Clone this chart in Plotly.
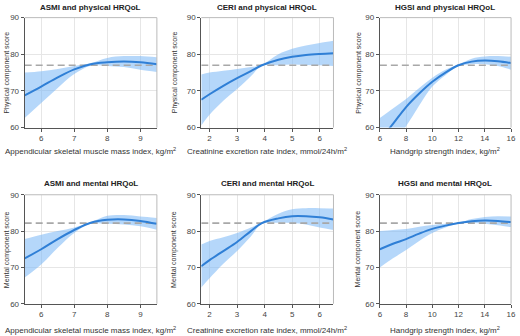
import plotly.graph_objects as go

# ---------------- data ----------------
titles = ["ASMI and physical HRQoL", "CERI and physical HRQoL", "HGSI and physical HRQoL",
          "ASMI and mental HRQoL", "CERI and mental HRQoL", "HGSI and mental HRQoL"]
x_titles = ["Appendicular skeletal muscle mass index, kg/m<sup>2</sup>",
            "Creatinine excretion rate index, mmol/24h/m<sup>2</sup>",
            "Handgrip strength index, kg/m<sup>2</sup>"]
y_titles = ["Physical component score", "Mental component score"]

asmi_x = [5.5, 6, 6.5, 7, 7.5, 8, 8.5, 9, 9.5]
ceri_x = [1.7, 2, 2.5, 3, 3.5, 3.9, 4.5, 5, 5.5, 6, 6.5]
hgsi_x = [6, 7, 8, 9, 10, 11, 12, 13, 14, 15, 16]

asmi_phys_mean = [68.8, 71.2, 73.7, 75.9, 77.3, 77.8, 78.0, 77.8, 77.3]
asmi_phys_upper = [75.0, 75.4, 76.0, 76.8, 77.6, 79.0, 79.5, 79.5, 79.2]
asmi_phys_lower = [62.6, 66.7, 70.8, 74.6, 76.9, 76.8, 76.5, 75.8, 75.2]

ceri_phys_mean = [67.6, 69.1, 71.4, 73.5, 75.4, 77.0, 78.5, 79.3, 79.8, 80.1, 80.3]
ceri_phys_upper = [74.5, 75.0, 75.5, 76.0, 76.5, 77.1, 80.0, 81.5, 82.4, 83.1, 83.7]
ceri_phys_lower = [60.6, 63.5, 67.3, 70.5, 74.0, 76.9, 77.0, 77.2, 77.1, 77.0, 76.8]

hgsi_phys_mean = [56.5, 61.0, 65.6, 69.3, 72.5, 75.0, 77.0, 78.0, 78.3, 78.1, 77.6]
hgsi_phys_upper = [62.6, 65.2, 67.8, 70.8, 73.6, 75.8, 77.2, 78.8, 79.4, 79.5, 79.3]
hgsi_phys_lower = [51.0, 56.0, 60.4, 66.0, 71.2, 74.3, 76.8, 77.3, 77.3, 76.8, 75.8]

asmi_ment_mean = [72.5, 75.0, 77.8, 80.3, 82.3, 83.1, 83.2, 82.8, 82.0]
asmi_ment_upper = [77.8, 79.0, 80.0, 81.0, 82.4, 84.2, 84.4, 84.0, 83.6]
asmi_ment_lower = [67.2, 70.8, 75.4, 79.5, 82.1, 82.0, 81.8, 81.3, 80.4]

ceri_ment_mean = [70.3, 72.0, 74.5, 77.0, 80.0, 82.2, 83.5, 84.1, 84.1, 83.8, 83.2]
ceri_ment_upper = [76.3, 77.3, 78.3, 79.5, 81.0, 82.4, 84.8, 86.0, 86.3, 86.3, 86.2]
ceri_ment_lower = [64.5, 67.0, 71.0, 74.5, 78.5, 82.0, 82.3, 82.2, 81.8, 81.0, 80.3]

hgsi_ment_mean = [75.0, 76.5, 77.8, 79.3, 80.6, 81.5, 82.2, 82.7, 82.9, 82.8, 82.5]
hgsi_ment_upper = [80.0, 80.3, 80.6, 81.2, 81.7, 82.0, 82.3, 83.3, 83.9, 84.1, 84.0]
hgsi_ment_lower = [70.0, 72.5, 74.8, 77.3, 79.5, 81.0, 82.1, 82.2, 82.0, 81.6, 81.1]

reference_values = [77.0, 77.0, 77.0, 82.2, 82.2, 82.2]

x_ranges = [[5.5, 9.5], [1.7, 6.5], [6, 16]]
x_tickvals = [[6, 7, 8, 9], [2, 3, 4, 5, 6], [6, 8, 10, 12, 14, 16]]
y_tickvals = [60, 70, 80, 90]

panels = [
    (asmi_x, asmi_phys_mean, asmi_phys_upper, asmi_phys_lower),
    (ceri_x, ceri_phys_mean, ceri_phys_upper, ceri_phys_lower),
    (hgsi_x, hgsi_phys_mean, hgsi_phys_upper, hgsi_phys_lower),
    (asmi_x, asmi_ment_mean, asmi_ment_upper, asmi_ment_lower),
    (ceri_x, ceri_ment_mean, ceri_ment_upper, ceri_ment_lower),
    (hgsi_x, hgsi_ment_mean, hgsi_ment_upper, hgsi_ment_lower),
]

# ---------------- layout ----------------
W, H = 520, 336
col_px = [(23, 157), (202, 336), (383, 516)]
row_px = [(14, 127), (196, 308)]
title_gap = [10, 12]
xtitle_gap = [24, 27]
ytitle_px = [5, 175, 361]
FONT = "Liberation Sans, Arial, sans-serif"

BAND = "rgba(120,182,245,0.55)"
LINE = "#2f7fd6"

fig = go.Figure()
layout = dict(
    width=W, height=H, margin=dict(l=0, r=0, t=0, b=0),
    paper_bgcolor="white", plot_bgcolor="white", showlegend=False,
    font=dict(family=FONT, size=8, color="#444"),
)
annotations = []
shapes = []

for i, (xs, mean, upper, lower) in enumerate(panels):
    r, c = divmod(i, 3)
    n = i + 1
    xa = "x" if n == 1 else f"x{n}"
    ya = "y" if n == 1 else f"y{n}"
    x0, x1 = col_px[c]
    y0, y1 = row_px[r]
    layout["xaxis" if n == 1 else f"xaxis{n}"] = dict(
        domain=[x0 / W, x1 / W], anchor=ya, range=x_ranges[c],
        tickvals=x_tickvals[c], showgrid=True, gridcolor="#e6e6e6", gridwidth=1,
        zeroline=False, showline=True, linecolor="#555", linewidth=1,
        ticks="outside", ticklen=3, tickcolor="#555", ticklabeloverflow="allow",
        tickfont=dict(family=FONT, size=8, color="#444"),
    )
    layout["yaxis" if n == 1 else f"yaxis{n}"] = dict(
        domain=[1 - y1 / H, 1 - y0 / H], anchor=xa, range=[60, 90],
        tickvals=y_tickvals, showgrid=True, gridcolor="#e6e6e6", gridwidth=1,
        zeroline=False, showline=True, linecolor="#555", linewidth=1,
        ticks="outside", ticklen=3, tickcolor="#555", ticklabeloverflow="allow",
        tickfont=dict(family=FONT, size=8, color="#444"),
    )
    # light frame top/right
    shapes.append(dict(type="line", xref=f"{xa} domain", yref=f"{ya} domain",
                       x0=0, x1=1, y0=1, y1=1, line=dict(color="#bbb", width=1)))
    shapes.append(dict(type="line", xref=f"{xa} domain", yref=f"{ya} domain",
                       x0=1, x1=1, y0=0, y1=1, line=dict(color="#bbb", width=1)))

    fig.add_trace(go.Scatter(x=xs, y=upper, xaxis=xa, yaxis=ya, mode="lines",
                             line=dict(width=0, shape="spline", smoothing=1.0),
                             hoverinfo="skip"))
    fig.add_trace(go.Scatter(x=xs, y=lower, xaxis=xa, yaxis=ya, mode="lines",
                             line=dict(width=0, shape="spline", smoothing=1.0),
                             fill="tonexty", fillcolor=BAND, hoverinfo="skip"))
    fig.add_trace(go.Scatter(x=x_ranges[c], y=[reference_values[i]] * 2, xaxis=xa, yaxis=ya,
                             mode="lines", line=dict(color="#a8a8a8", width=1.6, dash="7px,4px")))
    fig.add_trace(go.Scatter(x=xs, y=mean, xaxis=xa, yaxis=ya, mode="lines",
                             line=dict(color=LINE, width=2, shape="spline", smoothing=1.0)))

    # panel title
    annotations.append(dict(text=f"<b>{titles[i]}</b>", xref="paper", yref="paper",
                            x=(x0 + x1) / 2 / W, y=1 - (y0 - title_gap[r]) / H, xanchor="center",
                            yanchor="middle", showarrow=False,
                            font=dict(family=FONT, size=8, color="#222")))
    # x title
    annotations.append(dict(text=x_titles[c], xref="paper", yref="paper",
                            x=(x0 + x1) / 2 / W, y=1 - (y1 + xtitle_gap[r]) / H, xanchor="center",
                            yanchor="middle", showarrow=False,
                            font=dict(family=FONT, size=8, color="#333")))
    # y title
    annotations.append(dict(text=y_titles[r], xref="paper", yref="paper",
                            x=ytitle_px[c] / W, y=1 - (y0 + y1) / 2 / H, xanchor="center",
                            yanchor="middle", textangle=-90, showarrow=False,
                            font=dict(family=FONT, size=7, color="#333")))

layout["annotations"] = annotations
layout["shapes"] = shapes
fig.update_layout(**layout)
fig.write_html("out.html", config={"displayModeBar": False},
               post_script="document.body.style.margin='0';document.body.style.overflow='hidden';")
